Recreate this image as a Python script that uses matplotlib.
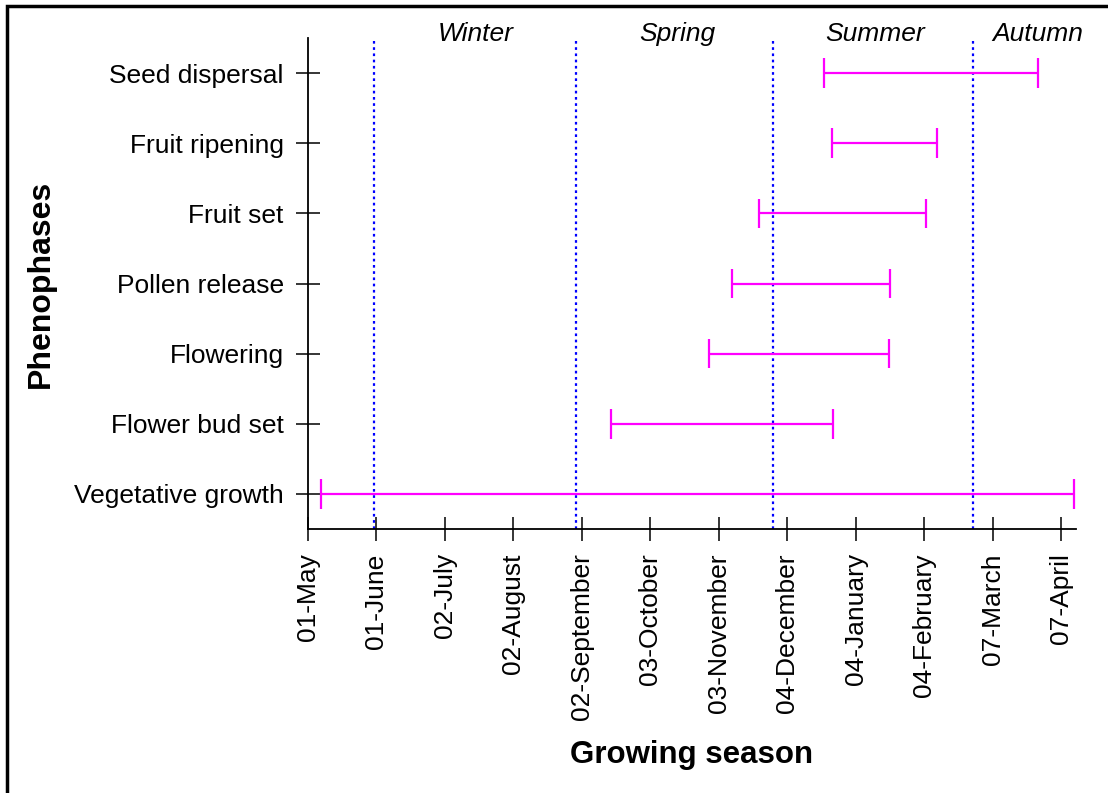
import matplotlib.pyplot as plt
from matplotlib.patches import Rectangle

plt.rcParams["font.family"] = ["Liberation Sans", "DejaVu Sans"]

# phenophases, bottom to top
phases = [
    "Vegetative growth",
    "Flower bud set",
    "Flowering",
    "Pollen release",
    "Fruit set",
    "Fruit ripening",
    "Seed dispersal",
]
# start / end in days since 01-May
start_day = [5.9, 137.2, 181.6, 192.0, 204.3, 237.3, 233.4]
end_day = [347.0, 237.8, 263.2, 263.4, 279.6, 284.9, 330.4]

tick_days = [0, 31, 62, 93, 124, 155, 186, 217, 248, 279, 310, 341]
tick_labels = [
    "01-May", "01-June", "02-July", "02-August", "02-September",
    "03-October", "03-November", "04-December", "04-January",
    "04-February", "07-March", "07-April",
]

# season boundaries and labels
season_bounds = [29.7, 121.4, 210.6, 301.2]
seasons = ["Winter", "Spring", "Summer", "Autumn"]
season_pos = [76, 167.4, 256.9, 330.2]

fig = plt.figure(figsize=(11.08, 7.93), dpi=100)
ax = fig.add_axes([308 / 1108, 264 / 793, 768 / 1108, 491 / 793])

y = list(range(1, len(phases) + 1))

for xb in season_bounds:
    ax.axvline(xb, color="#0000ff", linestyle=(0, (1.2, 1.6)), linewidth=1.6, zorder=1)

ax.hlines(y, start_day, end_day, color="#ff00ff", linewidth=1.6, zorder=2)
cap = 0.21
ax.vlines(start_day, [v - cap for v in y], [v + cap for v in y], color="#ff00ff", linewidth=1.6, zorder=2)
ax.vlines(end_day, [v - cap for v in y], [v + cap for v in y], color="#ff00ff", linewidth=1.6, zorder=2)

for name, xp in zip(seasons, season_pos):
    ax.text(xp, 7.56, name, ha="center", va="center", fontsize=19,
            style="italic", clip_on=False)

ax.set_xlim(0, 347.7)
ax.set_ylim(0.5, 7.5)
ax.set_xticks(tick_days)
ax.set_xticklabels(tick_labels, rotation=90, fontsize=19)
ax.set_yticks(y)
ax.set_yticklabels(phases, fontsize=19)

for side in ["top", "right"]:
    ax.spines[side].set_visible(False)
for side in ["left", "bottom"]:
    ax.spines[side].set_linewidth(1.3)

ax.tick_params(axis="both", direction="inout", length=17, width=1.1, pad=9)

ax.set_xlabel("Growing season", fontsize=22.5, fontweight="bold", labelpad=14)
ax.set_ylabel("Phenophases", fontsize=23, fontweight="bold", labelpad=13)

# frame around the figure (top and left edges visible)
fig.patches.append(Rectangle((6.5 / 1108, -0.05), 1.2, 1.05 - 5.5 / 793,
                             transform=fig.transFigure, fill=False,
                             edgecolor="black", linewidth=2.5))

fig.savefig("out.png", dpi=100)
